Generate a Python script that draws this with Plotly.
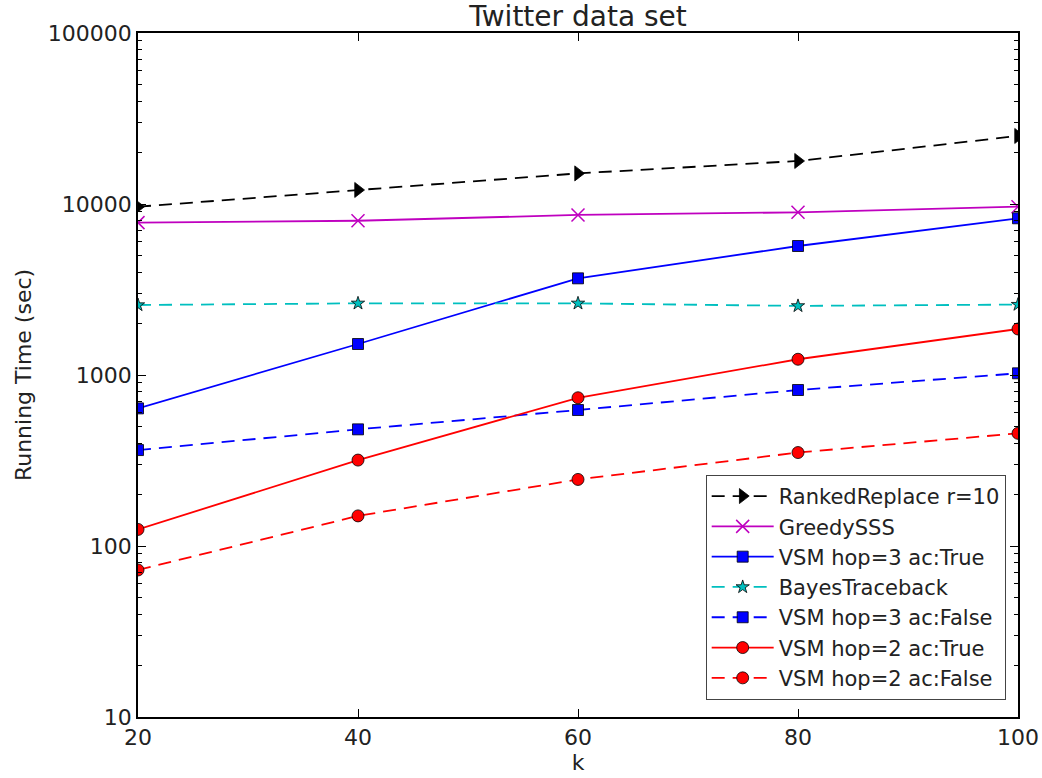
import plotly.graph_objects as go

k = [20, 40, 60, 80, 100]

ranked_replace = [9640, 12080, 15100, 17850, 25000]
greedy_sss = [7780, 7980, 8630, 8940, 9640]
vsm3_true = [638, 1518, 3675, 5680, 8250]
bayes_traceback = [2566, 2625, 2625, 2535, 2580]
vsm3_false = [364, 481, 624, 817, 1023]
vsm2_true = [125, 318, 736, 1236, 1858]
vsm2_false = [72.4, 150, 245, 352, 456]

y_ticks = [10, 100, 1000, 10000, 100000]
y_tick_labels = ["10", "100", "1000", "10000", "100000"]
x_ticks = [20, 40, 60, 80, 100]

FONT = "DejaVu Sans"
DASH = "13px,8px"

series = [
    ("RankedReplace r=10", ranked_replace, "#000000", DASH, "triangle-right", 13, "#000000"),
    ("GreedySSS", greedy_sss, "#BF00BF", "solid", "x-thin-open", 13, "#BF00BF"),
    ("VSM hop=3 ac:True", vsm3_true, "#0000FF", "solid", "square", 11, "#000000"),
    ("BayesTraceback", bayes_traceback, "#00BFBF", DASH, "star", 10, "#000000"),
    ("VSM hop=3 ac:False", vsm3_false, "#0000FF", DASH, "square", 11, "#000000"),
    ("VSM hop=2 ac:True", vsm2_true, "#FF0000", "solid", "circle", 12, "#000000"),
    ("VSM hop=2 ac:False", vsm2_false, "#FF0000", DASH, "circle", 12, "#000000"),
]

fig = go.Figure()
for i, (name, vals, color, dash, sym, size, mline) in enumerate(series):
    mkw = dict(symbol=sym, size=size, color=color,
               line=dict(color=(color if sym == "x-thin-open" else mline),
                         width=(1.5 if sym == "x-thin-open" else 0.8)))
    fig.add_trace(go.Scatter(
        x=k, y=vals, name=name, mode="lines+markers", legendgroup=f"g{i}",
        line=dict(color=color, width=1.8, dash=dash),
        marker=mkw,
    ))

axis_common = dict(
    showline=True, linecolor="black", linewidth=1.5, mirror="allticks",
    ticks="inside", ticklen=8, tickwidth=1, tickcolor="black",
    showgrid=False, zeroline=False, automargin=False,
    tickfont=dict(family=FONT, size=22, color="#222222"),
)

fig.update_xaxes(
    range=[20, 100], tickvals=x_ticks,
    title=dict(text="k", font=dict(family=FONT, size=22, color="#222222"), standoff=4),
    **axis_common,
)
fig.update_yaxes(
    type="log", range=[1, 5], tickvals=y_ticks, ticktext=y_tick_labels,
    minor=dict(ticks="inside", ticklen=4, tickwidth=1, tickcolor="black", dtick="D1", showgrid=False),
    title=dict(text="Running Time (sec)", font=dict(family=FONT, size=22, color="#222222"), standoff=10),
    **axis_common,
)

fig.update_layout(
    width=1042, height=778,
    margin=dict(l=138, r=24, t=33, b=61),
    paper_bgcolor="white", plot_bgcolor="white",
    title=dict(text="Twitter data set", x=0.5, xref="paper", xanchor="center",
               y=0.979, yanchor="middle",
               font=dict(family=FONT, size=28, color="#222222")),
    font=dict(family=FONT, color="#222222"),
    legend=dict(
        x=0.986, xanchor="right", y=0.025, yanchor="bottom",
        bordercolor="#444444", borderwidth=1, bgcolor="white",
        font=dict(family=FONT, size=21, color="#222222"),
        tracegroupgap=0, itemwidth=62,
    ),
    showlegend=True,
)

fig.write_html("out.html")
